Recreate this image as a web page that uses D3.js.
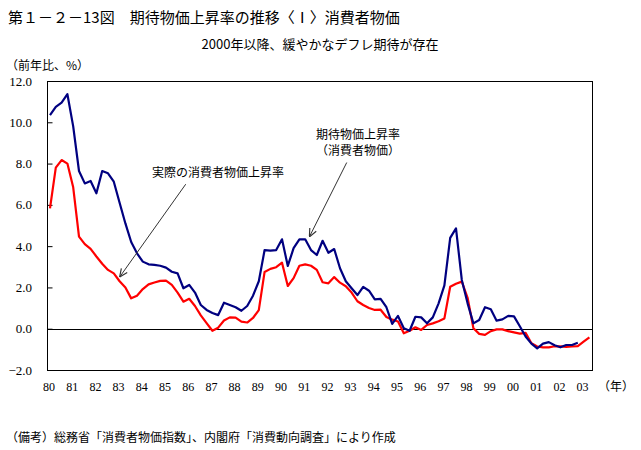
<!DOCTYPE html>
<html>
<head>
<meta charset="utf-8">
<script src="https://cdn.jsdelivr.net/npm/d3@7"></script>
<style>
  html, body { margin: 0; padding: 0; background: #fff; }
  svg { display: block; }
</style>
</head>
<body>
<div id="chart"></div>
<script>
// ---- Data (quarterly, 1980Q1 onwards) ----
const startYear = 1980;
const yearLabels = ["80","81","82","83","84","85","86","87","88","89","90","91","92","93","94","95","96","97","98","99","00","01","02","03"];
const yTicks = [-2, 0, 2, 4, 6, 8, 10, 12];

// 期待物価上昇率（消費者物価）
const expected = [
  10.35,10.75,10.95,11.36, 9.80,7.64,7.04,7.16, 6.56,7.64,7.53,7.12,
  6.10,5.10,4.20,3.65, 3.25,3.12,3.09,3.05, 2.96,2.76,2.68,1.96,
  2.12,1.75,1.15,0.91, 0.76,0.66,1.26,1.15, 1.04,0.87,1.10,1.60,
  2.30,3.81,3.78,3.81, 4.33,3.04,3.90,4.33, 4.33,3.81,3.57,4.26,
  3.68,3.86,2.93,2.30, 1.96,1.63,2.03,1.84, 1.42,1.45,1.04,0.23,
  0.62,0.02,-0.10,0.58, 0.55,0.26,0.55,1.23, 2.10,4.40,4.86,2.36,
  1.23,0.26,0.42,1.04, 0.94,0.39,0.45,0.62, 0.60,0.12,-0.38,-0.72,
  -0.95,-0.72,-0.65,-0.80, -0.90,-0.79,-0.79,-0.68
];
// 実際の消費者物価上昇率
const actual = [
  5.83,7.80,8.17,8.00, 6.85,4.46,4.10,3.87, 3.50,3.15,2.85,2.68,
  2.30,2.00,1.47,1.60, 1.92,2.15,2.24,2.32, 2.33,2.12,1.75,1.31,
  1.45,1.10,0.65,0.27, -0.10,0.05,0.40,0.55, 0.54,0.34,0.30,0.52,
  0.90,2.75,2.90,2.98, 3.20,2.07,2.45,3.05, 3.12,3.05,2.85,2.25,
  2.20,2.50,2.23,2.06, 1.75,1.33,1.15,1.00, 0.91,0.92,0.57,0.44,
  0.35,-0.22,-0.10,0.07, -0.06,0.18,0.26,0.36, 0.50,2.03,2.18,2.28,
  1.50,0.02,-0.25,-0.30, -0.12,-0.03,-0.03,-0.12, -0.18,-0.24,-0.20,-0.70,
  -0.86,-0.90,-0.90,-0.85, -0.86,-0.88,-0.86,-0.84, -0.63,-0.42
];

// ---- Layout ----
const W = 641, H = 450;
const box = { left: 47, right: 592, top: 81, bottom: 370 };

const svg = d3.select("#chart").append("svg")
  .attr("width", W).attr("height", H)
  .style("font-family", "'Noto Sans CJK JP', sans-serif");

const x = d3.scaleLinear().domain([0, 1]).range([50, 73.2]); // years since 1980
const y = d3.scaleLinear().domain([-2, 12]).range([box.bottom, box.top]);

// Titles
svg.append("text").attr("x", 8).attr("y", 23)
  .attr("font-size", 15).attr("fill", "#000")
  .text("第１－２－13図　期待物価上昇率の推移〈Ⅰ〉消費者物価");
svg.append("text").attr("x", 320).attr("y", 49).attr("text-anchor", "middle")
  .attr("font-size", 13).attr("fill", "#000")
  .text("2000年以降、緩やかなデフレ期待が存在");
svg.append("text").attr("x", 6).attr("y", 70)
  .attr("font-size", 12).attr("fill", "#000")
  .text("（前年比、%）");

// Plot frame
svg.append("rect")
  .attr("x", box.left + 0.5).attr("y", box.top + 0.5)
  .attr("width", box.right - box.left).attr("height", box.bottom - box.top)
  .attr("fill", "none").attr("stroke", "#000").attr("stroke-width", 1);

// Y axis (ticks inward)
const yAxis = d3.axisRight(y).tickValues(yTicks).tickSize(5).tickFormat(() => "");
svg.append("g").attr("transform", `translate(${box.left + 0.5},0)`).call(yAxis)
  .call(g => g.select(".domain").remove())
  .call(g => g.selectAll("line").attr("stroke", "#000"));
svg.append("g").selectAll("text").data(yTicks).join("text")
  .attr("x", 32).attr("y", d => y(d) + 4.5)
  .attr("text-anchor", "end")
  .attr("font-family", "'Liberation Serif', serif")
  .attr("font-size", 13)
  .attr("fill", "#000")
  .text(d => d3.format(".1f")(d));

// X labels
svg.append("g").selectAll("text").data(yearLabels).join("text")
  .attr("x", (d, i) => x(i) - 1).attr("y", 391)
  .attr("text-anchor", "middle")
  .attr("font-family", "'Liberation Serif', serif")
  .attr("font-size", 12)
  .attr("fill", "#000")
  .text(d => d);
svg.append("text").attr("x", 598).attr("y", 391)
  .attr("font-size", 12).attr("fill", "#000").text("（年）");

// Zero line
svg.append("line")
  .attr("x1", box.left).attr("x2", box.right)
  .attr("y1", Math.round(y(0)) + 0.5).attr("y2", Math.round(y(0)) + 0.5)
  .attr("stroke", "#000").attr("stroke-width", 1);

// Lines
const line = d3.line().x((d, i) => x(i / 4)).y(d => y(d));
svg.append("path").datum(actual)
  .attr("d", line).attr("fill", "none")
  .attr("stroke", "#ff0000").attr("stroke-width", 2.2).attr("stroke-linejoin", "round");
svg.append("path").datum(expected)
  .attr("d", line).attr("fill", "none")
  .attr("stroke", "#000080").attr("stroke-width", 2.2).attr("stroke-linejoin", "round");

// Arrow marker
const defs = svg.append("defs");
defs.append("marker").attr("id", "arr")
  .attr("viewBox", "0 0 10 10").attr("refX", 10).attr("refY", 5)
  .attr("markerWidth", 9).attr("markerHeight", 9).attr("markerUnits", "userSpaceOnUse")
  .attr("orient", "auto")
  .append("path").attr("d", "M1,1 L10,5 L1,9").attr("fill", "none")
  .attr("stroke", "#333").attr("stroke-width", 1.3);

// Annotations
svg.append("text").attr("x", 152).attr("y", 177)
  .attr("font-size", 12).attr("fill", "#000").text("実際の消費者物価上昇率");
svg.append("line")
  .attr("x1", x(5.85)).attr("y1", y(7.0))
  .attr("x2", x(3.0)).attr("y2", y(2.5))
  .attr("stroke", "#333").attr("stroke-width", 1).attr("marker-end", "url(#arr)");

svg.append("text").attr("x", 358).attr("y", 139).attr("text-anchor", "middle")
  .attr("font-size", 12).attr("fill", "#000").text("期待物価上昇率");
svg.append("text").attr("x", 358).attr("y", 155).attr("text-anchor", "middle")
  .attr("font-size", 12).attr("fill", "#000").text("（消費者物価）");
svg.append("line")
  .attr("x1", x(12.79)).attr("y1", y(8.05))
  .attr("x2", x(11.18)).attr("y2", y(4.45))
  .attr("stroke", "#333").attr("stroke-width", 1).attr("marker-end", "url(#arr)");

// Footnote
svg.append("text").attr("x", 6).attr("y", 442)
  .attr("font-size", 12).attr("fill", "#000")
  .text("（備考）総務省「消費者物価指数」、内閣府「消費動向調査」により作成");
</script>
</body>
</html>
